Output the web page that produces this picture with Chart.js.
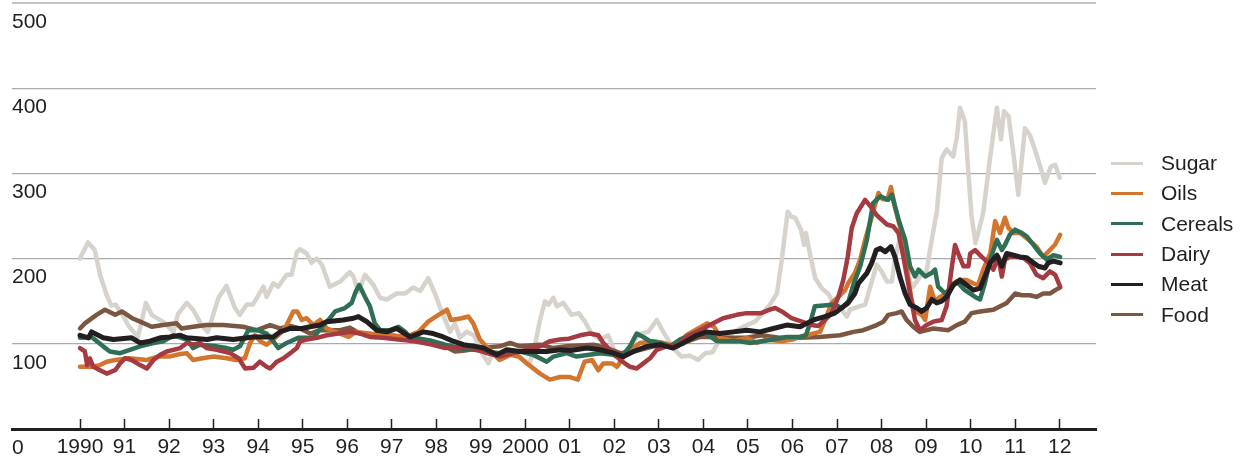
<!DOCTYPE html>
<html>
<head>
<meta charset="utf-8">
<script src="https://cdn.jsdelivr.net/npm/chart.js@4.4.1/dist/chart.umd.min.js"></script>
<style>
  html, body { margin: 0; padding: 0; background: #fff; }
  #wrap { position: relative; width: 1243px; height: 462px; }
  #legend { position: absolute; left: 1111px; top: 148px; font: 21px "Liberation Sans", Arial, Helvetica, sans-serif; color: #231f20; }
  #legend .item { display: flex; align-items: center; height: 30.3px; white-space: nowrap; }
  #legend .swatch { display: inline-block; width: 32px; height: 3px; margin-right: 18px; }
</style>
</head>
<body>
<div id="wrap">
  <canvas id="myChart" width="1243" height="462"></canvas>
  <div id="legend"></div>
</div>
<script>
// index values as [year, value]
var sugar = [[1990.00,200],[1990.18,219],[1990.33,210],[1990.45,181],[1990.60,157],[1990.70,145],[1990.80,146],[1990.97,133],[1991.08,122],[1991.30,108],[1991.48,148],[1991.61,134],[1991.86,126],[1992.10,114],[1992.20,135],[1992.40,148],[1992.54,140],[1992.73,122],[1992.87,114],[1993.11,154],[1993.29,168],[1993.48,142],[1993.59,134],[1993.74,146],[1993.88,146],[1994.12,167],[1994.19,155],[1994.34,171],[1994.45,167],[1994.64,181],[1994.75,181],[1994.87,208],[1994.94,211],[1995.09,206],[1995.20,195],[1995.32,200],[1995.43,193],[1995.61,167],[1995.84,173],[1996.06,184],[1996.14,179],[1996.25,161],[1996.40,181],[1996.59,169],[1996.74,154],[1996.89,152],[1997.11,159],[1997.30,159],[1997.48,166],[1997.64,162],[1997.82,177],[1997.97,159],[1998.12,138],[1998.31,114],[1998.42,124],[1998.53,107],[1998.68,114],[1998.85,110],[1998.98,93],[1999.17,77],[1999.25,87],[1999.45,85],[1999.66,89],[1999.88,85],[2000.07,75],[2000.18,89],[2000.33,128],[2000.44,150],[2000.52,146],[2000.63,154],[2000.71,144],[2000.85,148],[2001.04,134],[2001.20,136],[2001.34,126],[2001.49,112],[2001.68,105],[2001.86,110],[2002.01,91],[2002.13,83],[2002.35,97],[2002.58,112],[2002.76,114],[2002.95,128],[2003.10,114],[2003.32,95],[2003.51,85],[2003.70,86],[2003.88,81],[2004.04,89],[2004.20,90],[2004.37,105],[2004.56,110],[2004.75,116],[2004.97,122],[2005.16,126],[2005.34,136],[2005.49,146],[2005.65,159],[2005.76,199],[2005.89,255],[2005.98,249],[2006.06,248],[2006.19,234],[2006.26,216],[2006.30,230],[2006.39,206],[2006.51,177],[2006.66,165],[2006.80,159],[2006.95,144],[2007.10,140],[2007.22,132],[2007.29,140],[2007.50,144],[2007.63,146],[2007.78,173],[2007.89,193],[2008.00,185],[2008.12,173],[2008.23,173],[2008.30,200],[2008.41,224],[2008.53,197],[2008.64,173],[2008.71,167],[2008.86,179],[2009.01,185],[2009.12,220],[2009.24,255],[2009.35,318],[2009.46,328],[2009.61,320],[2009.69,342],[2009.76,377],[2009.87,361],[2009.95,300],[2010.02,250],[2010.11,218],[2010.28,253],[2010.44,320],[2010.59,377],[2010.68,340],[2010.75,373],[2010.85,367],[2010.96,324],[2011.07,275],[2011.22,353],[2011.33,345],[2011.48,322],[2011.67,289],[2011.80,308],[2011.90,310],[2012.00,295]]

var oils = [[1990.00,73],[1990.26,73],[1990.45,75],[1990.60,79],[1990.79,81],[1991.10,83],[1991.50,81],[1991.75,85],[1992.00,85],[1992.25,88],[1992.40,89],[1992.54,81],[1992.75,83],[1993.00,85],[1993.30,83],[1993.50,81],[1993.70,83],[1993.82,101],[1993.93,110],[1994.05,103],[1994.19,99],[1994.34,105],[1994.49,112],[1994.64,122],[1994.79,138],[1994.88,138],[1994.98,128],[1995.09,130],[1995.24,122],[1995.39,128],[1995.54,118],[1995.84,112],[1996.03,108],[1996.20,114],[1996.50,112],[1996.80,110],[1997.00,110],[1997.30,108],[1997.60,114],[1997.82,126],[1998.05,134],[1998.24,140],[1998.33,128],[1998.57,130],[1998.72,132],[1998.83,124],[1998.98,105],[1999.12,97],[1999.27,89],[1999.42,81],[1999.66,87],[1999.85,85],[2000.04,77],[2000.33,65],[2000.55,58],[2000.78,61],[2001.00,61],[2001.18,58],[2001.33,79],[2001.50,81],[2001.64,69],[2001.75,77],[2001.95,77],[2002.06,73],[2002.21,85],[2002.35,93],[2002.58,101],[2002.88,103],[2003.10,101],[2003.25,99],[2003.40,97],[2003.62,110],[2003.88,118],[2004.08,124],[2004.24,120],[2004.38,107],[2004.68,103],[2004.97,107],[2005.20,101],[2005.42,105],[2005.75,103],[2006.00,105],[2006.17,108],[2006.46,112],[2006.62,114],[2006.73,128],[2006.88,148],[2007.03,155],[2007.18,163],[2007.25,171],[2007.40,183],[2007.52,199],[2007.63,222],[2007.78,249],[2007.93,277],[2008.02,270],[2008.13,269],[2008.21,284],[2008.30,261],[2008.41,238],[2008.56,191],[2008.67,152],[2008.75,138],[2008.90,134],[2008.98,128],[2009.09,167],[2009.20,150],[2009.31,155],[2009.46,159],[2009.61,171],[2009.76,175],[2009.91,175],[2010.06,171],[2010.17,169],[2010.28,187],[2010.44,206],[2010.55,244],[2010.66,230],[2010.77,248],[2010.85,236],[2010.96,230],[2011.11,230],[2011.30,222],[2011.48,214],[2011.63,202],[2011.89,216],[2012.01,228]]

var cereals = [[1990.00,107],[1990.26,108],[1990.52,97],[1990.67,91],[1990.90,89],[1991.12,93],[1991.35,97],[1991.65,101],[1991.87,103],[1992.10,110],[1992.40,105],[1992.54,95],[1992.69,99],[1993.07,97],[1993.29,95],[1993.44,93],[1993.59,97],[1993.78,116],[1993.99,116],[1994.19,112],[1994.34,103],[1994.45,95],[1994.64,101],[1994.90,107],[1995.24,107],[1995.43,120],[1995.61,130],[1995.73,138],[1995.95,142],[1996.10,148],[1996.19,161],[1996.27,169],[1996.40,155],[1996.51,144],[1996.62,124],[1996.74,116],[1996.96,116],[1997.15,120],[1997.30,114],[1997.41,108],[1997.86,104],[1998.20,99],[1998.53,95],[1998.98,92],[1999.43,89],[1999.88,91],[2000.18,87],[2000.48,79],[2000.63,85],[2000.93,89],[2001.15,85],[2001.68,89],[2001.98,87],[2002.13,83],[2002.35,97],[2002.50,112],[2002.65,108],[2002.80,103],[2003.03,101],[2003.25,97],[2003.47,105],[2003.77,112],[2004.07,112],[2004.30,103],[2004.82,103],[2005.05,101],[2005.57,105],[2005.87,108],[2006.17,108],[2006.30,110],[2006.40,125],[2006.50,144],[2006.95,146],[2007.10,142],[2007.26,150],[2007.37,170],[2007.52,191],[2007.67,222],[2007.81,265],[2007.97,273],[2008.15,269],[2008.23,275],[2008.38,246],[2008.53,222],[2008.64,191],[2008.75,179],[2008.83,187],[2008.98,179],[2009.12,183],[2009.20,187],[2009.27,167],[2009.43,159],[2009.55,165],[2009.69,173],[2009.87,163],[2009.99,159],[2010.10,155],[2010.21,152],[2010.32,171],[2010.44,199],[2010.59,222],[2010.70,210],[2010.77,216],[2010.88,228],[2011.00,234],[2011.15,230],[2011.26,226],[2011.41,216],[2011.56,206],[2011.71,199],[2011.86,204],[2012.01,202]]

var dairy = [[1990.00,95],[1990.11,91],[1990.16,75],[1990.22,83],[1990.30,73],[1990.45,69],[1990.60,65],[1990.79,69],[1990.90,77],[1991.01,83],[1991.16,81],[1991.35,75],[1991.50,71],[1991.65,81],[1991.80,87],[1991.95,91],[1992.25,95],[1992.40,101],[1992.55,99],[1992.69,101],[1992.84,95],[1993.07,93],[1993.37,89],[1993.56,83],[1993.71,71],[1993.90,72],[1994.04,79],[1994.19,73],[1994.27,71],[1994.42,79],[1994.57,83],[1994.72,89],[1994.87,95],[1994.94,103],[1995.09,105],[1995.32,107],[1995.54,110],[1995.80,112],[1996.06,114],[1996.29,112],[1996.51,108],[1996.80,107],[1997.15,105],[1997.52,103],[1997.90,99],[1998.20,95],[1998.68,97],[1999.14,89],[1999.43,85],[1999.73,89],[2000.03,93],[2000.33,97],[2000.55,103],[2000.78,105],[2000.98,106],[2001.23,110],[2001.45,112],[2001.64,110],[2001.75,101],[2001.90,93],[2002.13,81],[2002.35,73],[2002.50,71],[2002.65,77],[2002.80,83],[2002.95,93],[2003.17,97],[2003.40,97],[2003.62,108],[2003.92,116],[2004.22,124],[2004.44,130],[2004.75,134],[2004.97,136],[2005.29,136],[2005.49,140],[2005.61,142],[2005.76,138],[2005.98,130],[2006.21,126],[2006.43,122],[2006.58,121],[2006.73,128],[2006.88,136],[2007.03,155],[2007.14,175],[2007.24,202],[2007.33,236],[2007.44,253],[2007.63,269],[2007.74,262],[2007.89,251],[2008.12,240],[2008.26,238],[2008.38,230],[2008.49,202],[2008.64,159],[2008.75,128],[2008.86,116],[2009.01,122],[2009.16,126],[2009.35,128],[2009.46,144],[2009.58,191],[2009.65,216],[2009.72,206],[2009.84,191],[2009.95,191],[2009.99,206],[2010.10,210],[2010.25,202],[2010.40,195],[2010.51,187],[2010.62,202],[2010.70,179],[2010.77,199],[2010.88,202],[2011.03,202],[2011.18,201],[2011.33,195],[2011.48,181],[2011.63,177],[2011.78,185],[2011.90,181],[2012.01,167]]

var meat = [[1990.00,110],[1990.19,107],[1990.26,114],[1990.52,107],[1990.75,105],[1991.16,107],[1991.35,101],[1991.57,103],[1991.80,107],[1992.02,108],[1992.25,110],[1992.40,107],[1992.85,105],[1993.07,107],[1993.44,105],[1993.89,108],[1994.34,108],[1994.49,114],[1994.72,118],[1994.98,118],[1995.17,120],[1995.39,122],[1995.54,126],[1995.91,128],[1996.14,130],[1996.25,132],[1996.44,126],[1996.66,116],[1996.89,114],[1997.11,118],[1997.41,108],[1997.71,114],[1997.93,112],[1998.16,108],[1998.38,103],[1998.61,99],[1998.88,97],[1999.06,95],[1999.36,87],[1999.58,93],[1999.88,91],[2000.48,91],[2000.78,93],[2001.02,92],[2001.38,95],[2001.68,93],[2001.98,89],[2002.20,85],[2002.43,91],[2002.73,97],[2003.03,99],[2003.32,95],[2003.55,101],[2003.85,110],[2004.07,114],[2004.37,112],[2004.67,114],[2004.97,116],[2005.27,114],[2005.57,118],[2005.87,122],[2006.17,120],[2006.47,128],[2006.73,132],[2006.95,136],[2007.10,142],[2007.25,148],[2007.40,159],[2007.48,171],[2007.67,183],[2007.78,195],[2007.88,210],[2007.97,212],[2008.08,208],[2008.21,214],[2008.30,202],[2008.41,179],[2008.53,159],[2008.64,146],[2008.79,142],[2008.90,138],[2009.01,142],[2009.13,152],[2009.24,148],[2009.35,150],[2009.46,155],[2009.61,169],[2009.76,175],[2009.91,169],[2010.06,163],[2010.21,165],[2010.32,179],[2010.44,195],[2010.59,204],[2010.70,191],[2010.81,206],[2010.96,204],[2011.11,202],[2011.26,201],[2011.41,195],[2011.52,191],[2011.67,189],[2011.74,195],[2011.86,197],[2012.01,195]]

var food = [[1990.00,118],[1990.11,124],[1990.37,134],[1990.56,140],[1990.79,134],[1990.94,138],[1991.17,130],[1991.35,126],[1991.61,120],[1991.87,122],[1992.17,124],[1992.28,118],[1992.54,120],[1992.84,122],[1993.22,122],[1993.66,120],[1993.97,116],[1994.27,122],[1994.49,118],[1994.72,121],[1994.94,118],[1995.17,112],[1995.39,116],[1995.84,116],[1996.06,119],[1996.29,112],[1996.85,110],[1997.30,108],[1997.60,106],[1997.82,101],[1998.19,97],[1998.42,91],[1998.64,92],[1998.97,95],[1999.43,97],[1999.66,101],[1999.88,97],[2000.33,99],[2000.63,95],[2000.93,97],[2001.53,99],[2001.83,95],[2002.13,89],[2002.43,91],[2002.73,95],[2003.03,99],[2003.32,97],[2003.55,101],[2003.92,108],[2004.15,108],[2004.37,107],[2004.97,107],[2005.30,110],[2005.70,107],[2006.17,107],[2006.60,108],[2007.07,110],[2007.37,114],[2007.59,116],[2007.89,122],[2008.04,126],[2008.15,134],[2008.34,136],[2008.45,138],[2008.56,128],[2008.71,120],[2008.86,114],[2009.16,118],[2009.50,116],[2009.69,122],[2009.87,126],[2010.02,136],[2010.21,138],[2010.51,140],[2010.81,148],[2011.00,159],[2011.15,157],[2011.33,157],[2011.48,155],[2011.63,159],[2011.78,159],[2011.90,163],[2012.01,166]]

var seriesNames = ["Sugar", "Oils", "Cereals", "Dairy", "Meat", "Food"]
var yearTicks = [1990,1991,1992,1993,1994,1995,1996,1997,1998,1999,2000,2001,2002,2003,2004,2005,2006,2007,2008,2009,2010,2011,2012]
var yearLabels = ["1990","91","92","93","94","95","96","97","98","99","2000","01","02","03","04","05","06","07","08","09","10","11","12"]
var valueTicks = [0, 100, 200, 300, 400, 500]

var ink = '#231f20'
Chart.defaults.font.family = '"Liberation Sans", Arial, Helvetica, sans-serif'
Chart.defaults.font.size = 21
Chart.defaults.color = ink

function series(label, data, color, width, order) {
    return {
        label: label,
        data: data,
        borderColor: color,
        backgroundColor: color,
        borderWidth: width,
        order: order,
        fill: false
    }
}

var ctx = document.getElementById('myChart').getContext('2d');
var myChart = new Chart(ctx, {
    type: 'line',
    data: {
        datasets: [
            series(seriesNames[0], sugar, '#d7d3cc', 4.5, 6),
            series(seriesNames[1], oils, '#d2752e', 4.5, 4),
            series(seriesNames[2], cereals, '#2f6f55', 4.5, 3),
            series(seriesNames[3], dairy, '#a63a41', 4.5, 2),
            series(seriesNames[4], meat, '#231f20', 5, 1),
            series(seriesNames[5], food, '#7b5641', 4.5, 5)
        ]
    },
    options: {
        responsive: false,
        animation: false,
        events: [],
        layout: { padding: { left: 12, right: 147, top: 3, bottom: 0 } },
        elements: {
            point: { radius: 0 },
            line: { tension: 0, borderJoinStyle: 'round', borderCapStyle: 'round' }
        },
        plugins: {
            legend: { display: false },
            tooltip: { enabled: false }
        },
        scales: {
            x: {
                type: 'linear',
                min: 1988.473,
                max: 2012.815,
                afterBuildTicks: function(scale) {
                    scale.ticks = yearTicks.map(function(v) { return { value: v } })
                },
                afterFit: function(scale) {
                    scale.height = 33
                    scale.paddingLeft = 0
                    scale.paddingRight = 0
                },
                ticks: {
                    autoSkip: false,
                    maxRotation: 0,
                    padding: 16,
                    callback: function(v) { return yearLabels[yearTicks.indexOf(v)] }
                },
                grid: {
                    drawOnChartArea: false,
                    drawTicks: true,
                    tickLength: -10,
                    tickColor: ink,
                    tickWidth: 1.5
                },
                border: { display: true, color: ink, width: 3 }
            },
            y: {
                min: 0,
                max: 500,
                afterBuildTicks: function(scale) {
                    scale.ticks = valueTicks.map(function(v) { return { value: v } })
                },
                afterFit: function(scale) {
                    scale.width = 0
                    scale.paddingTop = 0
                    scale.paddingBottom = 0
                },
                ticks: { mirror: true, padding: 0, labelOffset: 19 },
                grid: {
                    drawTicks: false,
                    color: function(c) {
                        if (c.tick.value === 0) return 'rgba(0,0,0,0)'
                        return c.tick.value === 500 ? '#c4c4c4' : '#a9abae'
                    },
                    lineWidth: function(c) { return c.tick.value === 500 ? 2 : 1.3 }
                },
                border: { display: false }
            }
        }
    }
});

// legend as html, built from the chart's own datasets
var legendBox = document.getElementById('legend')
myChart.data.datasets.forEach(function(ds) {
    var item = document.createElement('div')
    item.className = 'item'
    var sw = document.createElement('span')
    sw.className = 'swatch'
    sw.style.background = ds.borderColor
    item.appendChild(sw)
    item.appendChild(document.createTextNode(ds.label))
    legendBox.appendChild(item)
})
</script>
</body>
</html>
